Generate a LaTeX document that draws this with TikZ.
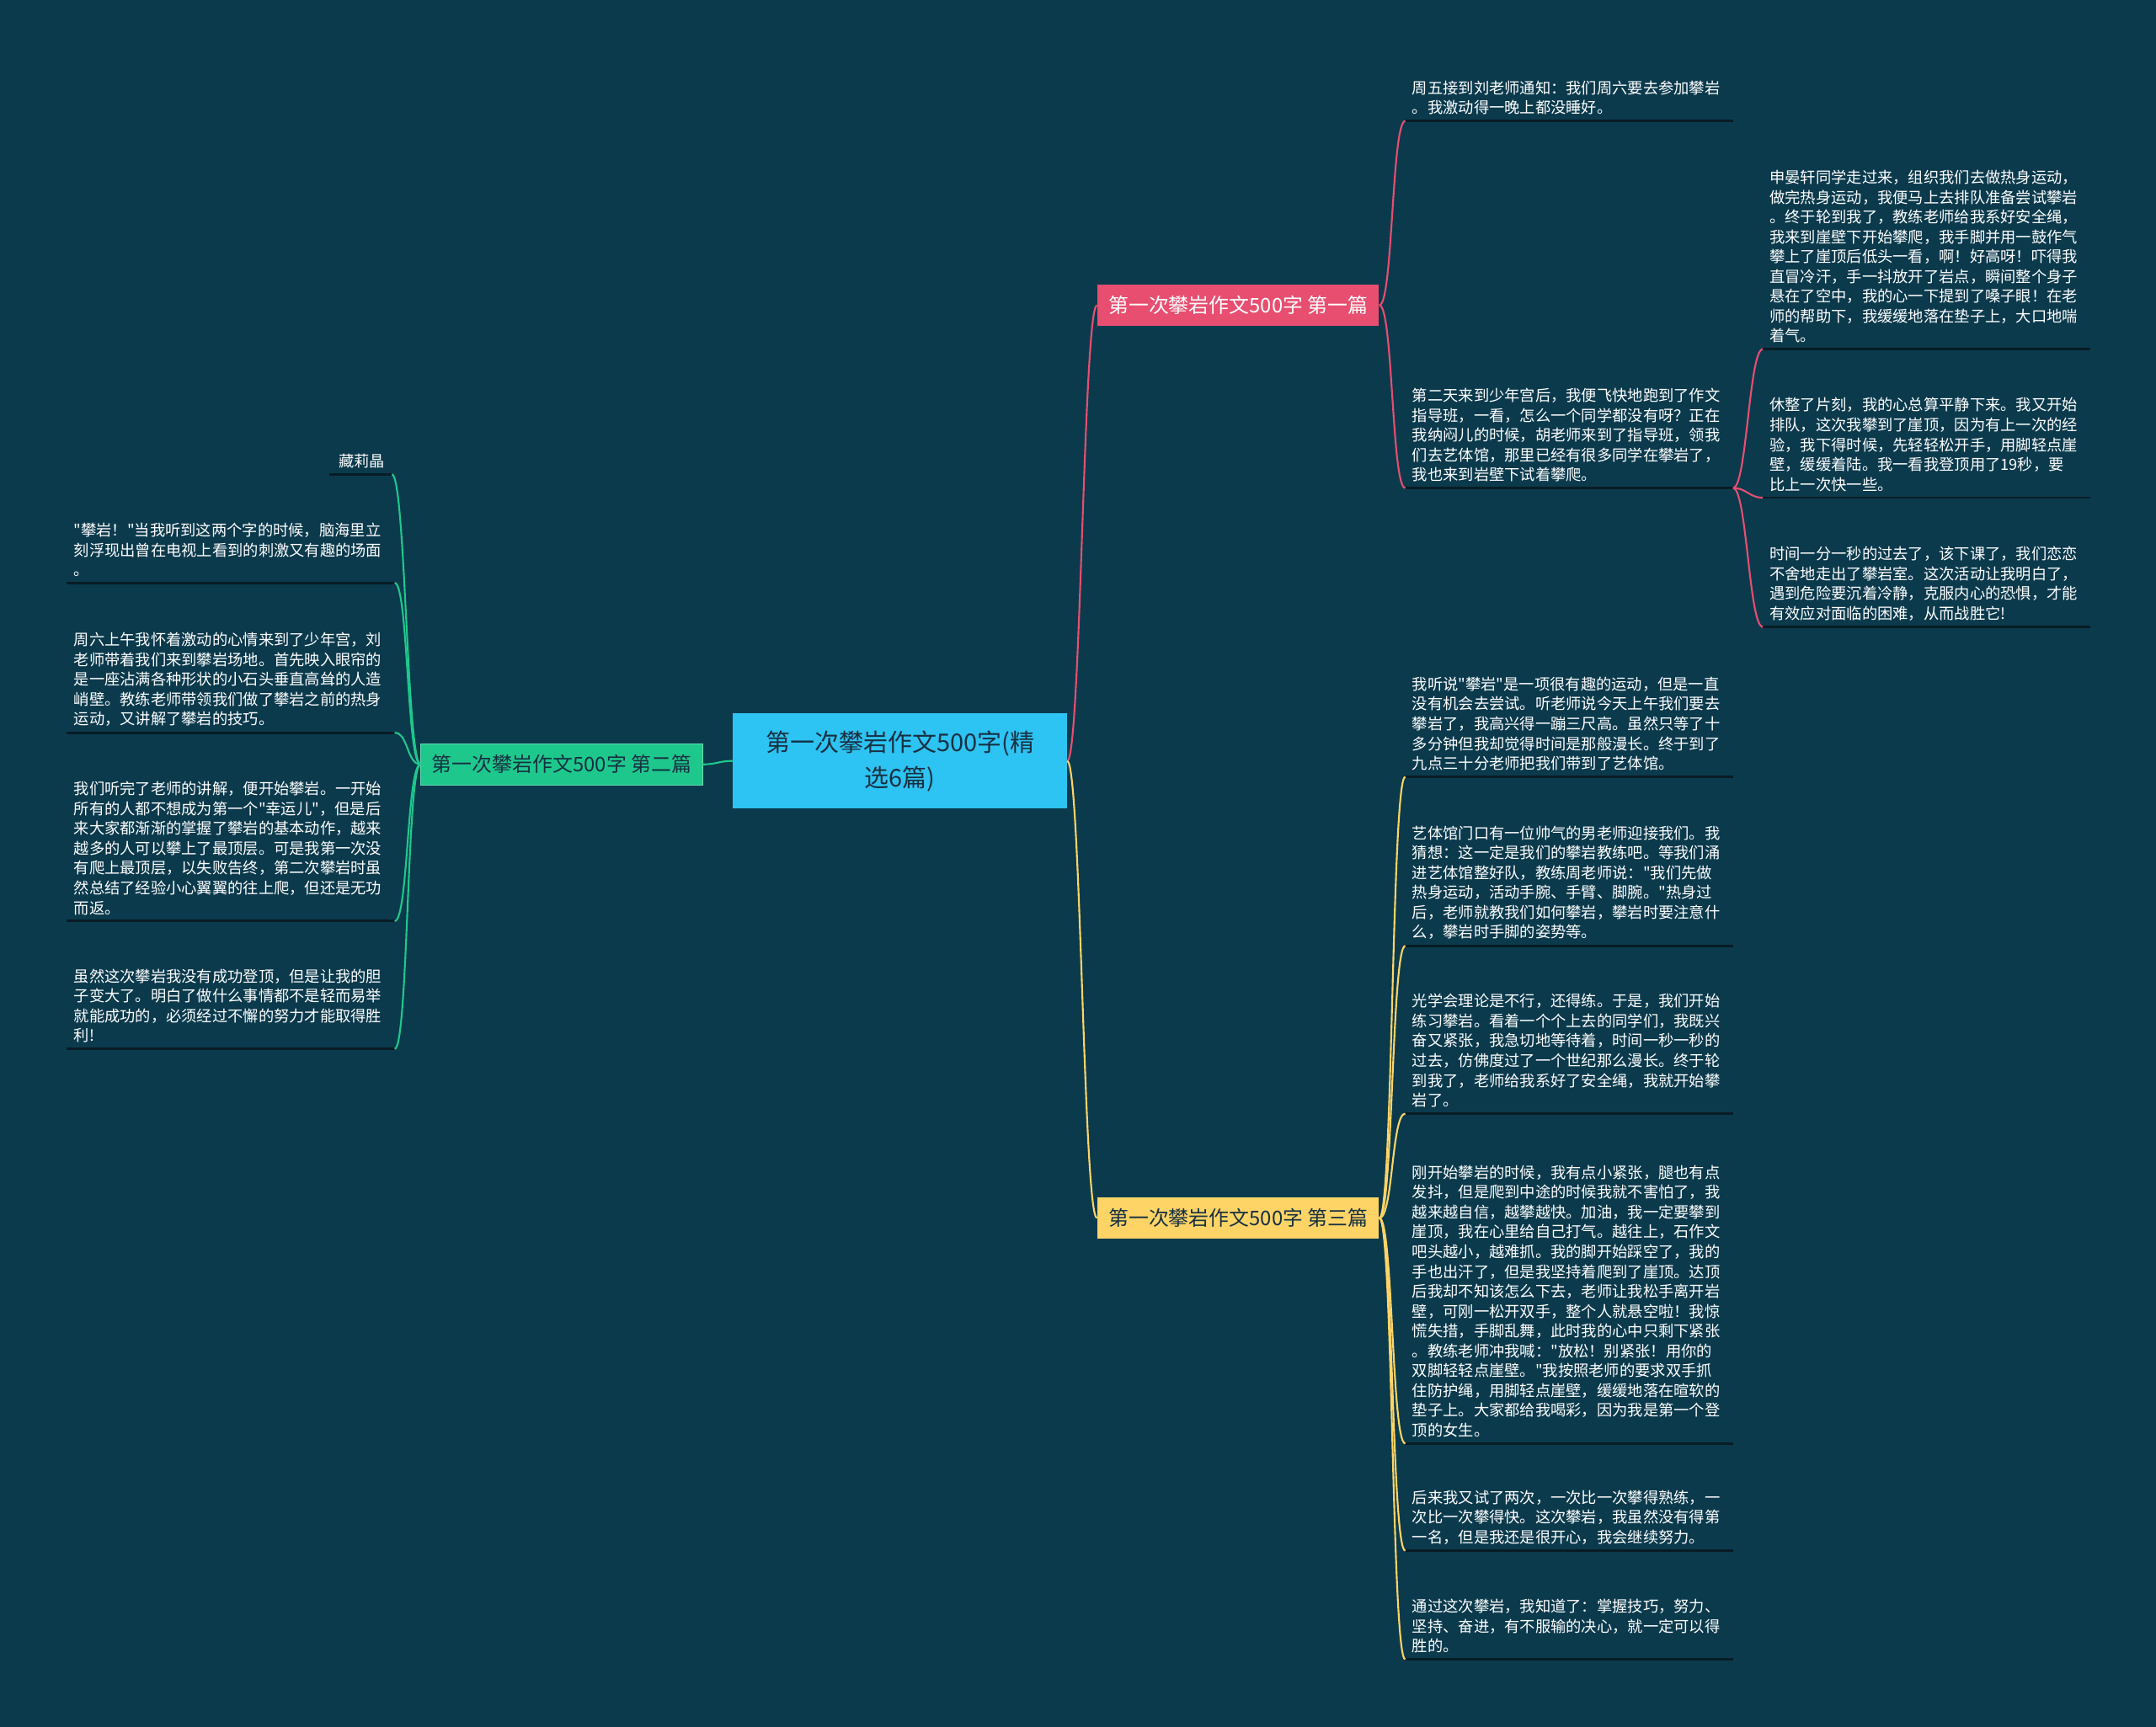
\documentclass[tikz,border=0pt]{standalone}
\usepackage{fontspec}
\setmainfont{Noto Sans CJK SC}[Ligatures=TeXOff]
\usetikzlibrary{positioning}
\definecolor{bgteal}{RGB}{11,58,77}
\definecolor{rootblue}{RGB}{45,195,242}
\definecolor{rosered}{RGB}{232,78,112}
\definecolor{mintgreen}{RGB}{30,200,140}
\definecolor{sunyellow}{RGB}{255,212,102}
\definecolor{inkdark}{RGB}{22,48,66}
\definecolor{lineshade}{RGB}{8,28,36}

\tikzset{
  root/.style={fill=rootblue, text=inkdark, minimum width=7.93cm, minimum height=2.25cm, align=center, font=\fontsize{16.5}{24}\selectfont},
  branch/.style={minimum width=6.69cm, minimum height=0.98cm, inner sep=0pt, font=\fontsize{13.6}{16}\selectfont},
  leaf/.style={text=white, align=left, text width=7.45cm, inner xsep=0.16cm, inner ysep=0.14cm, font=\fontsize{10.4}{13.4}\selectfont},
  underline/.style={draw=lineshade, line width=1.6pt},
  link/.style={line width=1.2pt}
}

\begin{document}
\begin{tikzpicture}[x=0.032653cm, y=-0.032653cm]
        % Background
        \fill[bgteal] (0,0) rectangle (1568,1256);

        % Root and branches
        \node[root] (root) at (654.5,553.5) {第一次攀岩作文500字(精\\选6篇)};
        \node[branch, fill=rosered, text=white] (first) at (900.5,222) {第一次攀岩作文500字 第一篇};
        \node[branch, fill=mintgreen, draw=mintgreen!70!white, text=inkdark] (second) at (408.5,556) {第一次攀岩作文500字 第二篇};
        \node[branch, fill=sunyellow, text=inkdark] (third) at (900.5,886) {第一次攀岩作文500字 第三篇};

        % First essay
        \node[leaf, anchor=south west] (l1a) at (1022,88) {周五接到刘老师通知：我们周六要去参加攀岩\\。我激动得一晚上都没睡好。};
        \node[leaf, anchor=south west] (l1b) at (1022,355) {第二天来到少年宫后，我便飞快地跑到了作文\\指导班，一看，怎么一个同学都没有呀？正在\\我纳闷儿的时候，胡老师来到了指导班，领我\\们去艺体馆，那里已经有很多同学在攀岩了，\\我也来到岩壁下试着攀爬。};
        \node[leaf, anchor=south west] (l1b1) at (1282,254) {申晏轩同学走过来，组织我们去做热身运动，\\做完热身运动，我便马上去排队准备尝试攀岩\\。终于轮到我了，教练老师给我系好安全绳，\\我来到崖壁下开始攀爬，我手脚并用一鼓作气\\攀上了崖顶后低头一看，啊！好高呀！吓得我\\直冒冷汗，手一抖放开了岩点，瞬间整个身子\\悬在了空中，我的心一下提到了嗓子眼！在老\\师的帮助下，我缓缓地落在垫子上，大口地喘\\着气。};
        \node[leaf, anchor=south west] (l1b2) at (1282,362) {休整了片刻，我的心总算平静下来。我又开始\\排队，这次我攀到了崖顶，因为有上一次的经\\验，我下得时候，先轻轻松开手，用脚轻点崖\\壁，缓缓着陆。我一看我登顶用了19秒，要\\比上一次快一些。};
        \node[leaf, anchor=south west] (l1b3) at (1282,456) {时间一分一秒的过去了，该下课了，我们恋恋\\不舍地走出了攀岩室。这次活动让我明白了，\\遇到危险要沉着冷静，克服内心的恐惧，才能\\有效应对面临的困难，从而战胜它!};

        % Second essay
        \node[leaf, anchor=south east, text width=1.15cm, align=right] (l2a) at (285,345) {藏莉晶};
        \node[leaf, anchor=south east] (l2b) at (287,424) {"攀岩！"当我听到这两个字的时候，脑海里立\\刻浮现出曾在电视上看到的刺激又有趣的场面\\。};
        \node[leaf, anchor=south east] (l2c) at (287,533) {周六上午我怀着激动的心情来到了少年宫，刘\\老师带着我们来到攀岩场地。首先映入眼帘的\\是一座沾满各种形状的小石头垂直高耸的人造\\峭壁。教练老师带领我们做了攀岩之前的热身\\运动，又讲解了攀岩的技巧。};
        \node[leaf, anchor=south east] (l2d) at (287,670) {我们听完了老师的讲解，便开始攀岩。一开始\\所有的人都不想成为第一个"幸运儿"，但是后\\来大家都渐渐的掌握了攀岩的基本动作，越来\\越多的人可以攀上了最顶层。可是我第一次没\\有爬上最顶层，以失败告终，第二次攀岩时虽\\然总结了经验小心翼翼的往上爬，但还是无功\\而返。};
        \node[leaf, anchor=south east] (l2e) at (287,763) {虽然这次攀岩我没有成功登顶，但是让我的胆\\子变大了。明白了做什么事情都不是轻而易举\\就能成功的，必须经过不懈的努力才能取得胜\\利!};

        % Third essay
        \node[leaf, anchor=south west] (l3a) at (1022,565) {我听说"攀岩"是一项很有趣的运动，但是一直\\没有机会去尝试。听老师说今天上午我们要去\\攀岩了，我高兴得一蹦三尺高。虽然只等了十\\多分钟但我却觉得时间是那般漫长。终于到了\\九点三十分老师把我们带到了艺体馆。};
        \node[leaf, anchor=south west] (l3b) at (1022,688) {艺体馆门口有一位帅气的男老师迎接我们。我\\猜想：这一定是我们的攀岩教练吧。等我们涌\\进艺体馆整好队，教练周老师说："我们先做\\热身运动，活动手腕、手臂、脚腕。"热身过\\后，老师就教我们如何攀岩，攀岩时要注意什\\么，攀岩时手脚的姿势等。};
        \node[leaf, anchor=south west] (l3c) at (1022,810) {光学会理论是不行，还得练。于是，我们开始\\练习攀岩。看着一个个上去的同学们，我既兴\\奋又紧张，我急切地等待着，时间一秒一秒的\\过去，仿佛度过了一个世纪那么漫长。终于轮\\到我了，老师给我系好了安全绳，我就开始攀\\岩了。};
        \node[leaf, anchor=south west] (l3d) at (1022,1050) {刚开始攀岩的时候，我有点小紧张，腿也有点\\发抖，但是爬到中途的时候我就不害怕了，我\\越来越自信，越攀越快。加油，我一定要攀到\\崖顶，我在心里给自己打气。越往上，石作文\\吧头越小，越难抓。我的脚开始踩空了，我的\\手也出汗了，但是我坚持着爬到了崖顶。达顶\\后我却不知该怎么下去，老师让我松手离开岩\\壁，可刚一松开双手，整个人就悬空啦！我惊\\慌失措，手脚乱舞，此时我的心中只剩下紧张\\。教练老师冲我喊："放松！别紧张！用你的\\双脚轻轻点崖壁。"我按照老师的要求双手抓\\住防护绳，用脚轻点崖壁，缓缓地落在暄软的\\垫子上。大家都给我喝彩，因为我是第一个登\\顶的女生。};
        \node[leaf, anchor=south west] (l3e) at (1022,1128) {后来我又试了两次，一次比一次攀得熟练，一\\次比一次攀得快。这次攀岩，我虽然没有得第\\一名，但是我还是很开心，我会继续努力。};
        \node[leaf, anchor=south west] (l3f) at (1022,1207) {通过这次攀岩，我知道了：掌握技巧，努力、\\坚持、奋进，有不服输的决心，就一定可以得\\胜的。};

        % Underlines
        \foreach \n in {l1a,l1b,l1b1,l1b2,l1b3,l2a,l2b,l2c,l2d,l2e,l3a,l3b,l3c,l3d,l3e,l3f}
          \draw[underline] (\n.south west) -- (\n.south east);

        % Root links
        \draw[link, rosered] (root.east) .. controls +(10,0) and +(-10,0) .. (first.west);
        \draw[link, sunyellow] (root.east) .. controls +(10,0) and +(-10,0) .. (third.west);
        \draw[link, mintgreen] (root.west) .. controls +(-10,0) and +(10,0) .. (second.east);

        % Branch links
        \foreach \leaf in {l1a,l1b}
          \draw[link, rosered] (first.east) .. controls +(10,0) and +(-10,0) .. (\leaf.south west);
        \foreach \leaf in {l1b1,l1b2,l1b3}
          \draw[link, rosered] (l1b.south east) .. controls +(10,0) and +(-10,0) .. (\leaf.south west);
        \foreach \leaf in {l2a,l2b,l2c,l2d,l2e}
          \draw[link, mintgreen] (second.west) .. controls +(-10,0) and +(10,0) .. (\leaf.south east);
        \foreach \leaf in {l3a,l3b,l3c,l3d,l3e,l3f}
          \draw[link, sunyellow] (third.east) .. controls +(10,0) and +(-10,0) .. (\leaf.south west);
    \end{tikzpicture}
\end{document}
